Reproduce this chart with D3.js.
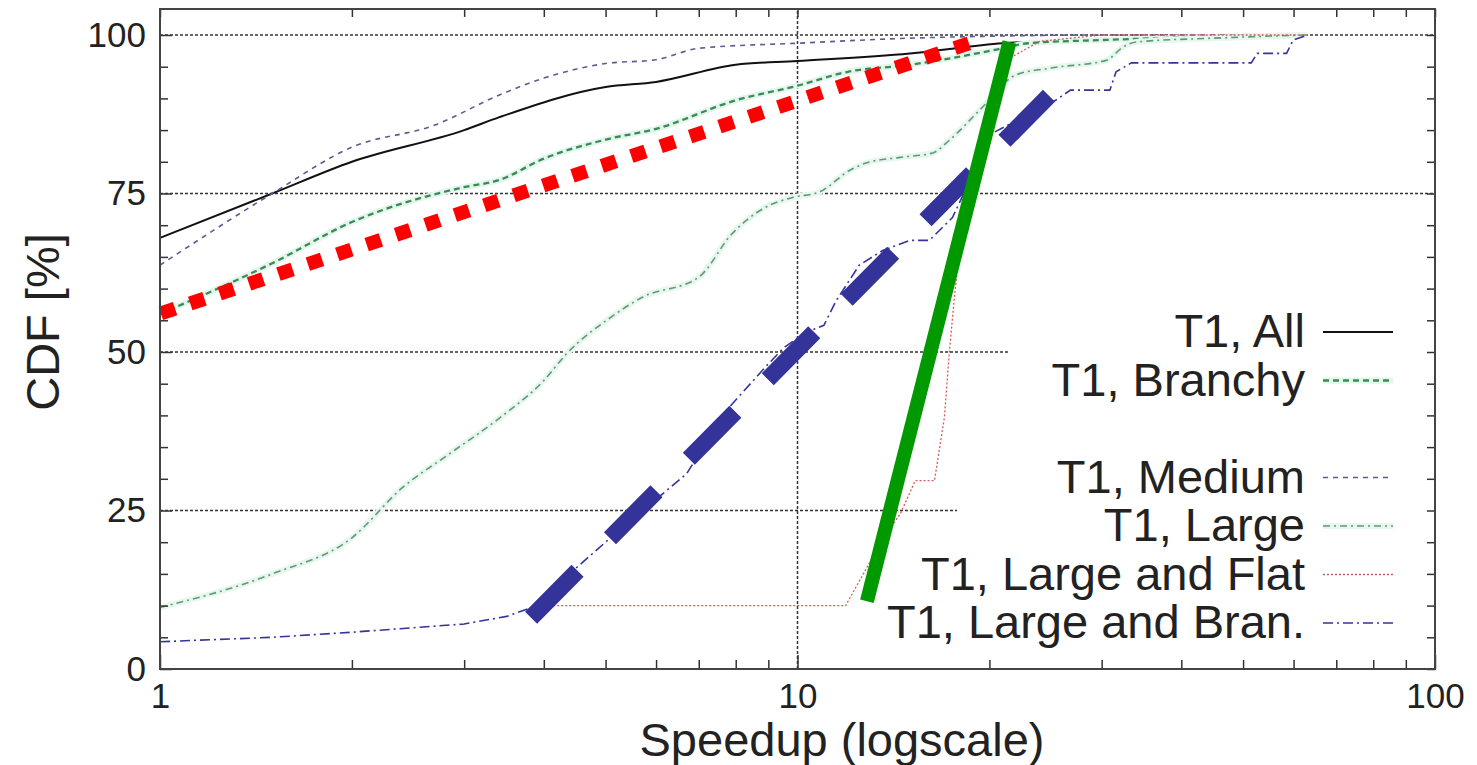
<!DOCTYPE html>
<html>
<head>
<meta charset="utf-8">
<script src="https://cdn.jsdelivr.net/npm/d3@7"></script>
<style>
  html, body { margin: 0; padding: 0; background: #fff; }
  svg { display: block; font-family: "Liberation Sans", Arial, Helvetica, sans-serif; }
</style>
</head>
<body>
<svg id="chart"></svg>
<script>
// values (speedup on x, CDF % on y)
const allX = [1, 1.5, 2, 3, 3.4, 5, 6, 8, 10, 15, 21, 30, 40, 63];
const allY = [68, 75, 80, 85, 87, 91.8, 92.6, 95.3, 95.9, 97.1, 98.7, 99.3, 99.8, 100];

const branchyX = [1, 1.5, 2, 3, 3.4, 4, 5, 6, 8, 10, 12, 15, 21, 23, 30, 40, 63];
const branchyY = [56, 64, 70.5, 76, 77.1, 80.5, 83.5, 85.2, 89.7, 92, 94.2, 95.3, 97.9, 98.7, 99.2, 99.6, 100];

const mediumX = [1, 1.5, 2, 2.7, 3.4, 4, 5, 6, 7, 10, 15, 20, 30, 63];
const mediumY = [63.7, 75, 82.3, 85.8, 90.5, 93.2, 95.5, 96.1, 97.9, 98.7, 99.5, 99.8, 100, 100];

const largeX = [1, 1.5, 2, 2.4, 2.85, 3.4, 4, 4.35, 5.1, 5.7, 7, 7.9, 8.9, 9.85, 10.8, 12.1, 12.8, 14.5, 16.3, 17.3, 19.5, 22, 25, 30.5, 32.4, 34, 45, 63];
const largeY = [9.7, 15, 20.7, 28.6, 34, 39.5, 45.5, 49.8, 55.5, 58.6, 61.8, 68.7, 72.8, 74.4, 75.2, 78.7, 79.8, 80.7, 81.4, 83.4, 88.6, 93.7, 94.8, 96, 98.1, 98.9, 99.5, 100];

const flatX = [3.85, 11.9, 13.5, 14.5, 15.3, 16.4, 17, 17.3, 17.6, 18.1, 19, 20.1, 21.2, 24, 30, 63];
const flatY = [10, 10, 19.9, 24.5, 29.7, 29.7, 39.7, 49.8, 58, 70, 80, 88, 96, 99, 100, 100];

const branX = [1, 1.5, 2, 3, 3.5, 3.85, 4.48, 5.17, 6.09, 6.7, 7.8, 8.9, 9.5, 10.3, 11, 11.5, 12.5, 13.6, 15, 16.1, 17.5, 20.2, 25.4, 26.8, 30.9, 31.6, 33.4, 51.5, 52.6, 58.5, 59.9, 63.2];
const branY = [4.3, 5, 5.8, 7.1, 8.3, 9.8, 15.8, 21.3, 27.3, 30.8, 41.2, 47.6, 50.6, 53.1, 54.2, 58.1, 63.7, 66, 67.6, 67.6, 71.2, 84.5, 89.7, 91.3, 91.3, 94.2, 95.6, 95.6, 97.1, 97.1, 99.2, 100];

// the three thick hand-drawn trend lines (end points)
const redFitX = [1.003, 18.6], redFitY = [56.1, 98.7];
const blueFitX = [3.82, 24.8], blueFitY = [8.1, 90.4];
const greenFitX = [12.85, 21.5], greenFitY = [10.7, 98.9];

const xMajor = [1, 10, 100];
const xMinor = [2, 3, 4, 5, 6, 7, 8, 9, 20, 30, 40, 50, 60, 70, 80, 90];
const yMajor = [0, 25, 50, 75, 100];
const yMinor = [5, 10, 15, 20, 30, 35, 40, 45, 55, 60, 65, 70, 80, 85, 90, 95];
const gridY = [25, 50, 75, 100];
const gridX = [10];

const series = [
  {name: "T1, All", x: allX, y: allY, color: "#111", width: 2, dash: null, smooth: true},
  {name: "T1, Branchy", x: branchyX, y: branchyY, color: "#3a8a5a", width: 2.3, dash: "6,4", halo: "#e2f6ea", smooth: true},
  null,
  {name: "T1, Medium", x: mediumX, y: mediumY, color: "#5c5c8e", width: 1.6, dash: "5,5", smooth: true},
  {name: "T1, Large", x: largeX, y: largeY, color: "#5f9a78", width: 1.6, dash: "7,4,2,4", halo: "#e8f7ee", smooth: true},
  {name: "T1, Large and Flat", x: flatX, y: flatY, color: "#d85a5a", width: 1.3, dash: "2,2", smooth: false},
  {name: "T1, Large and Bran.", x: branX, y: branY, color: "#34349a", width: 1.6, dash: "10,4,2,4", smooth: false}
];

const width = 1477, height = 765;
const margin = {top: 9, right: 42, bottom: 96, left: 160};

const x = d3.scaleLog().domain([1, 100]).range([margin.left, width - margin.right]);
const y = d3.scaleLinear().domain([0, 104.1]).range([height - margin.bottom, margin.top]);

const svg = d3.select("#chart").attr("width", width).attr("height", height);

// grid
const grid = svg.append("g").attr("stroke", "#333").attr("stroke-width", 1.5).attr("stroke-dasharray", "3,2");
grid.selectAll("line.gy").data(gridY).join("line")
  .attr("x1", x(1)).attr("x2", x(100)).attr("y1", d => y(d)).attr("y2", d => y(d));
grid.selectAll("line.gx").data(gridX).join("line")
  .attr("x1", d => x(d)).attr("x2", d => x(d)).attr("y1", y(0)).attr("y2", y(104.1));

// opaque key background (hides grid behind the labels)
svg.append("rect").attr("x", 1009).attr("y", 312).attr("width", 424).attr("height", 95).attr("fill", "#fff");
svg.append("rect").attr("x", 957).attr("y", 455).attr("width", 476).attr("height", 195).attr("fill", "#fff");

// data curves
const curves = svg.append("g").attr("fill", "none");
series.filter(s => s).forEach(s => {
  const pts = s.x.map((v, i) => [v, s.y[i]]);
  const line = d3.line().x(d => x(d[0])).y(d => y(d[1]))
    .curve(s.smooth ? d3.curveMonotoneX : d3.curveLinear);
  if (s.halo) {
    curves.append("path").attr("d", line(pts)).attr("stroke", s.halo)
      .attr("stroke-width", 6).attr("stroke-linejoin", "round");
  }
  curves.append("path").attr("d", line(pts))
    .attr("stroke", s.color).attr("stroke-width", s.width)
    .attr("stroke-dasharray", s.dash);
});

// thick trend lines
const fit = d3.line().x(d => x(d[0])).y(d => y(d[1]));
const fits = [
  {x: redFitX, y: redFitY, color: "#ff0000", width: 14, dash: "15,16"},
  {x: blueFitX, y: blueFitY, color: "#333399", width: 17, dash: "66,46"},
  {x: greenFitX, y: greenFitY, color: "#009900", width: 14, dash: null}
];
svg.append("g").attr("fill", "none").selectAll("path").data(fits).join("path")
  .attr("d", f => fit(f.x.map((v, i) => [v, f.y[i]])))
  .attr("stroke", f => f.color).attr("stroke-width", f => f.width)
  .attr("stroke-dasharray", f => f.dash).attr("stroke-linecap", "butt");

// axes (ticks point inward)
const tickStyle = g => {
  g.select(".domain").remove();
  g.selectAll(".tick line").attr("stroke", "#333").attr("stroke-width", 1.5);
  g.selectAll(".tick text").attr("fill", "#222").attr("font-size", 35)
    .attr("font-family", "Liberation Sans, Arial, sans-serif");
};
const bottom = height - margin.bottom, right = width - margin.right;
svg.append("g").attr("transform", `translate(0,${bottom})`)
  .call(d3.axisBottom(x).tickValues(xMajor).tickSize(-14).tickPadding(14).tickFormat(d3.format("d"))).call(tickStyle);
svg.append("g").attr("transform", `translate(0,${bottom})`)
  .call(d3.axisBottom(x).tickValues(xMinor).tickSize(-9).tickFormat("")).call(tickStyle);
svg.append("g").attr("transform", `translate(0,${margin.top})`)
  .call(d3.axisTop(x).tickValues(xMajor.concat(xMinor)).tickSize(-8).tickFormat("")).call(tickStyle);
svg.append("g").attr("transform", `translate(${margin.left},0)`)
  .call(d3.axisLeft(y).tickValues(yMajor).tickSize(-12).tickPadding(14)).call(tickStyle);
svg.append("g").attr("transform", `translate(${margin.left},0)`)
  .call(d3.axisLeft(y).tickValues(yMinor).tickSize(-8).tickFormat("")).call(tickStyle);
svg.append("g").attr("transform", `translate(${right},0)`)
  .call(d3.axisRight(y).tickValues(yMajor.concat(yMinor)).tickSize(-8).tickFormat("")).call(tickStyle);

// frame
svg.append("rect").attr("x", margin.left).attr("y", margin.top)
  .attr("width", right - margin.left).attr("height", bottom - margin.top)
  .attr("fill", "none").attr("stroke", "#444").attr("stroke-width", 2);

// axis titles
svg.append("text").attr("x", 842).attr("y", 756).attr("text-anchor", "middle")
  .attr("font-size", 47).attr("fill", "#222").text("Speedup (logscale)");
svg.append("text").attr("transform", "translate(59,322) rotate(-90)").attr("text-anchor", "middle")
  .attr("font-size", 47).attr("fill", "#222").text("CDF [%]");

// key
const key = svg.append("g");
series.forEach((s, i) => {
  if (!s) return;
  const ly = 332 + i * 48.5;
  key.append("text").attr("x", 1305).attr("y", ly + 15).attr("text-anchor", "end")
    .attr("font-size", 47).attr("fill", "#222").text(s.name);
  if (s.halo) {
    key.append("line").attr("x1", 1323).attr("x2", 1393).attr("y1", ly).attr("y2", ly)
      .attr("stroke", s.halo).attr("stroke-width", 6);
  }
  key.append("line").attr("x1", 1323).attr("x2", 1393).attr("y1", ly).attr("y2", ly)
    .attr("stroke", s.color).attr("stroke-width", s.width).attr("stroke-dasharray", s.dash);
});
</script>
</body>
</html>
